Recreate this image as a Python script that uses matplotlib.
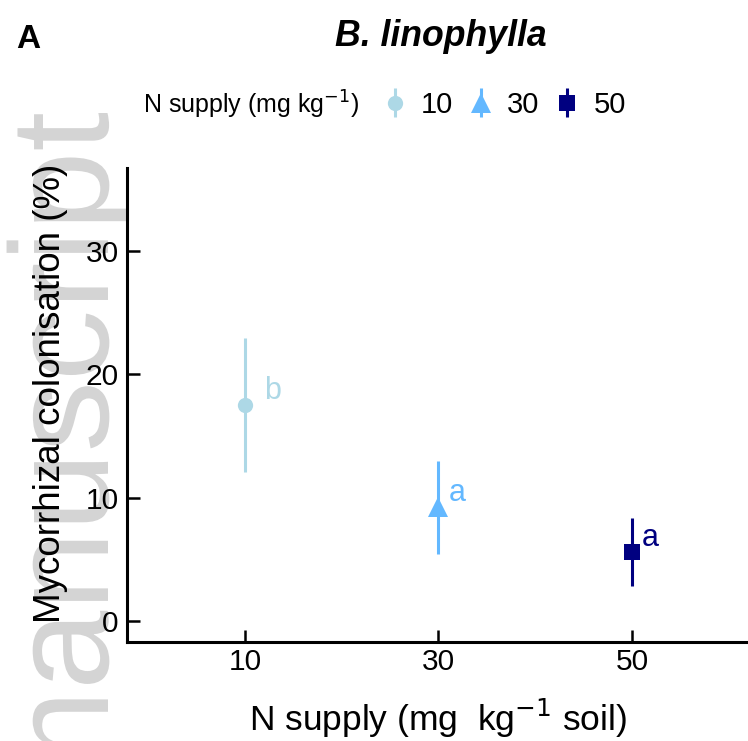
import numpy as np
import matplotlib
matplotlib.use('Agg')
from matplotlib import pyplot as plt
from matplotlib.textpath import TextPath
from matplotlib.patches import PathPatch
from matplotlib.font_manager import FontProperties
from matplotlib.transforms import Affine2D, IdentityTransform

plt.rcParams['font.family'] = ['Liberation Sans', 'DejaVu Sans']

# data
n_supply = [10, 30, 50]
colonisation = [17.5, 9.2, 5.6]
err = [5.45, 3.8, 2.75]
letters = ['b', 'a', 'a']
leg_labels = ['10', '30', '50']

colors = ['#ADD8E6', '#63B8FF', '#000080']
markers = ['o', '^', 's']
msizes = [11, 14, 11]
letter_dx = [19, 10, 10]  # pixel offsets of the significance letters

W, H = 748, 741
fig = plt.figure(figsize=(W / 100, H / 100), dpi=100)
ax = fig.add_axes([127 / W, 1 - 642 / H, (W - 127) / W, (642 - 168) / H])

# grey "manuscript" watermark down the left edge (pixel placement)
fp = FontProperties(family='Liberation Sans')
tp = TextPath((0, 0), 'manuscript', size=1, prop=fp)
tail = TextPath((0, 0), 'anuscript', size=1, prop=fp)
x_end = tp.get_extents().x1
m_adv = x_end - tail.get_extents().x1
sx = (690 - 113) / (x_end - m_adv)
sy = 140
tr = Affine2D().scale(sx, sy).rotate_deg(90).translate(108, (H - 113) - x_end * sx)
wm = PathPatch(tr.transform_path(tp), facecolor='#d4d4d4', lw=0,
               transform=IdentityTransform(), zorder=-1)
fig.add_artist(wm)

handles = []
for x, y, e, c, m, ms, lab, dx in zip(n_supply, colonisation, err, colors, markers,
                                      msizes, letters, letter_dx):
    h = ax.errorbar(x, y, yerr=e, fmt=m, color=c, ecolor=c, elinewidth=2.2,
                    markersize=ms, capsize=0, markeredgewidth=0)
    handles.append(h)
    ax.annotate(lab, (x, y), xytext=(dx, 6), textcoords='offset pixels',
                color=c, fontsize=22, ha='left', va='baseline')

ax.set_xlim(-2.2, 62)
ax.set_ylim(-1.7, 36.7)
ax.set_xticks(n_supply)
ax.set_yticks([0, 10, 20, 30])
for s in ['top', 'right']:
    ax.spines[s].set_visible(False)
for s in ['left', 'bottom']:
    ax.spines[s].set_linewidth(2.2)
ax.tick_params(axis='both', direction='in', length=9, width=1.8,
               labelsize=21.5, color='black')
ax.tick_params(axis='y', pad=6)
ax.tick_params(axis='x', pad=4)

ax.set_xlabel('N supply (mg  kg$^{-1}$ soil)', fontsize=25.5)
ax.xaxis.set_label_coords(0.5, -(697 - 642) / (642 - 168))
ax.set_ylabel('Mycorrhizal colonisation (%)', fontsize=26.5)
ax.yaxis.set_label_coords(-(127 - 68) / (W - 127), (642 - 393) / (642 - 168))

fig.text(441 / W, 1 - 46 / H, 'B. linophylla', fontsize=25.7, fontweight='bold',
         fontstyle='italic', ha='center', va='baseline')
fig.text(16 / W, 1 - 48 / H, 'A', fontsize=24, fontweight='bold', ha='left', va='baseline')

fig.text(143 / W, 1 - 105 / H, 'N supply (mg kg$^{-1}$)', fontsize=18, ha='left', va='center')
leg = fig.legend(handles, leg_labels, loc='center left',
                 bbox_to_anchor=(380 / W, 1 - 105 / H), ncol=3, frameon=False,
                 fontsize=21, handlelength=1.0, handletextpad=0.4,
                 columnspacing=0.45, borderpad=0, borderaxespad=0)

fig.savefig('out.png', dpi=100)
